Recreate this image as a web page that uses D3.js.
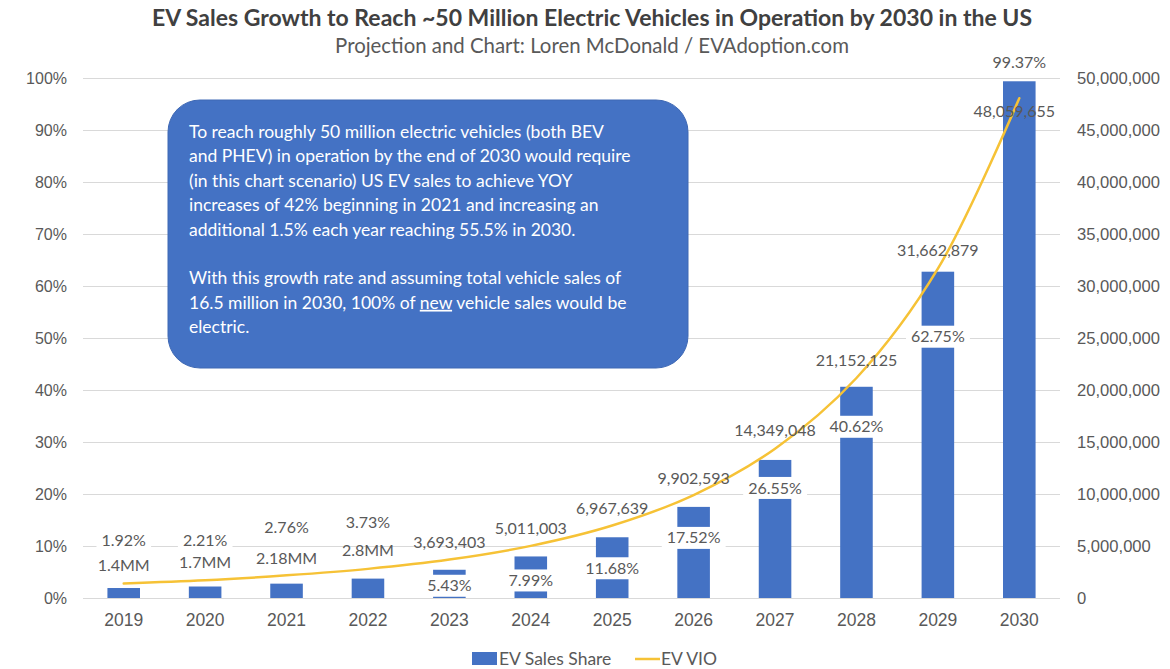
<!DOCTYPE html>
<html>
<head>
<meta charset="utf-8">
<script src="https://cdn.jsdelivr.net/npm/d3@7"></script>
<style>
  html, body { margin: 0; padding: 0; background: #fff; }
  svg { display: block; font-family: Lato, "Liberation Sans", sans-serif; }
</style>
</head>
<body>
<svg id="chart" width="1170" height="669"></svg>
<script>
// Years on the category axis
const years = ["2019","2020","2021","2022","2023","2024","2025","2026","2027","2028","2029","2030"];
// EV share of new vehicle sales (percent)
const salesShare = [1.92, 2.21, 2.76, 3.73, 5.43, 7.99, 11.68, 17.52, 26.55, 40.62, 62.75, 99.37];
// EVs in operation (vehicles)
const evVio = [1400000, 1700000, 2180000, 2800000, 3693403, 5011003, 6967639, 9902593, 14349048, 21152125, 31662879, 48059655];
// Text shown above the line points
const vioLabels = ["1.4MM","1.7MM","2.18MM","2.8MM","3,693,403","5,011,003","6,967,639","9,902,593","14,349,048","21,152,125","31,662,879","48,059,655"];
// Axis ticks
const leftTicks = [0,10,20,30,40,50,60,70,80,90,100];
const rightTicks = [0,5e6,10e6,15e6,20e6,25e6,30e6,35e6,40e6,45e6,50e6];

// Label placement (pixel offsets from each mark)
const shareLabelDy = [-48,-46,-56,-56,16,24,31,31,28,40,65,-19];
const vioLabelDy = [-18,-18,-17,-18,-17,-17,-17,-17,-18,-18,-18,13];
const vioLabelDx = [0,0,0,0,0,0,0,0,0,0,0,-5];

const noteLines = [
  ["To reach roughly 50 million electric vehicles (both BEV"],
  ["and PHEV) in operation by the end of 2030 would require"],
  ["(in this chart scenario) US EV sales to achieve YOY"],
  ["increases of 42% beginning in 2021 and increasing an"],
  ["additional 1.5% each year reaching 55.5% in 2030."],
  [""],
  ["With this growth rate and assuming total vehicle sales of"],
  ["16.5 million in 2030, 100% of ", "new", " vehicle sales would be"],
  ["electric."]
];

const svg = d3.select("#chart");
const plot = { left: 83, right: 1060, top: 78, bottom: 598 };
const barColor = "#4472C4";
const lineColor = "#F6C236";
const textColor = "#595959";

const x = d3.scaleBand().domain(years).range([plot.left, plot.right]).paddingInner(0.6).paddingOuter(0.3);
const yL = d3.scaleLinear().domain([0, 100]).range([plot.bottom, plot.top]);
const yR = d3.scaleLinear().domain([0, 50e6]).range([plot.bottom, plot.top]);

// Title
svg.append("text").attr("x", 592).attr("y", 26).attr("text-anchor", "middle")
  .attr("font-size", 23).attr("font-weight", 700).attr("fill", "#404040")
  .text("EV Sales Growth to Reach ~50 Million Electric Vehicles in Operation by 2030 in the US");
svg.append("text").attr("x", 592).attr("y", 53).attr("text-anchor", "middle")
  .attr("font-size", 20.4).attr("fill", textColor)
  .text("Projection and Chart: Loren McDonald / EVAdoption.com");

// Gridlines
svg.append("g").selectAll("line").data(leftTicks).join("line")
  .attr("x1", plot.left).attr("x2", plot.right)
  .attr("y1", d => Math.round(yL(d)) + 0.5).attr("y2", d => Math.round(yL(d)) + 0.5)
  .attr("stroke", "#D9D9D9").attr("stroke-width", 1);

// Left axis
const axL = svg.append("g").attr("transform", `translate(${plot.left - 16},0)`)
  .call(d3.axisLeft(yL).tickValues(leftTicks).tickFormat(d => d + "%").tickSize(0).tickPadding(0));
axL.select(".domain").remove();
axL.selectAll("text").attr("font-size", 16).attr("fill", textColor).attr("font-family", null);

// Right axis
const axR = svg.append("g").attr("transform", `translate(1077,0)`)
  .call(d3.axisRight(yR).tickValues(rightTicks).tickFormat(d3.format(",")).tickSize(0).tickPadding(0));
axR.select(".domain").remove();
axR.selectAll("text").attr("font-size", 16.6).attr("fill", textColor).attr("font-family", null);

// Bottom axis
const axB = svg.append("g").attr("transform", `translate(0,${plot.bottom})`)
  .call(d3.axisBottom(x).tickSize(0).tickPadding(16));
axB.select(".domain").remove();
axB.selectAll("text").attr("font-size", 17.5).attr("fill", textColor).attr("font-family", null);

// Bars
svg.append("g").selectAll("rect").data(years).join("rect")
  .attr("x", d => x(d)).attr("width", x.bandwidth())
  .attr("y", (d, i) => yL(salesShare[i]))
  .attr("height", (d, i) => yL(0) - yL(salesShare[i]))
  .attr("fill", barColor);

// Note box
const note = svg.append("g");
note.append("rect").attr("x", 168).attr("y", 100).attr("width", 520).attr("height", 268)
  .attr("rx", 32).attr("ry", 32).attr("fill", barColor).attr("stroke", "#3E68B4").attr("stroke-width", 1);
const noteText = note.append("text").attr("font-size", 17.5).attr("fill", "#fff");
noteLines.forEach((parts, i) => {
  const t = noteText.append("tspan").attr("x", 189).attr("y", 138 + i * 24.4);
  parts.forEach((p, j) => {
    const s = t.append("tspan").text(p);
    if (parts.length > 1 && j === 1) s.attr("text-decoration", "underline");
  });
});

// EV VIO line
const line = d3.line()
  .x((d, i) => x(years[i]) + x.bandwidth() / 2)
  .y(d => yR(d))
  .curve(d3.curveCatmullRom.alpha(0.5));
svg.append("path").datum(evVio).attr("d", line)
  .attr("fill", "none").attr("stroke", lineColor).attr("stroke-width", 2.5).attr("stroke-linecap", "round");

// Share labels with white boxes
const shareG = svg.append("g");
years.forEach((yr, i) => {
  const cx = x(yr) + x.bandwidth() / 2;
  const cy = yL(salesShare[i]) + shareLabelDy[i];
  const g = shareG.append("g");
  const t = g.append("text").attr("x", cx).attr("y", cy).attr("dy", "0.35em")
    .attr("text-anchor", "middle").attr("font-size", 16).attr("fill", textColor)
    .text(salesShare[i].toFixed(2) + "%");
  const bb = t.node().getBBox();
  g.insert("rect", "text").attr("x", bb.x - 5).attr("y", cy - 11).attr("width", bb.width + 10).attr("height", 22)
    .attr("fill", "#fff");
});

// VIO labels
svg.append("g").selectAll("text").data(vioLabels).join("text")
  .attr("x", (d, i) => x(years[i]) + x.bandwidth() / 2 + vioLabelDx[i])
  .attr("y", (d, i) => yR(evVio[i]) + vioLabelDy[i])
  .attr("dy", "0.35em").attr("text-anchor", "middle")
  .attr("font-size", 16).attr("fill", textColor)
  .text(d => d);

// Legend
const lg = svg.append("g");
lg.append("rect").attr("x", 472).attr("y", 652).attr("width", 25).attr("height", 13).attr("fill", barColor);
lg.append("text").attr("x", 499).attr("y", 665).attr("font-size", 17.5).attr("fill", textColor).text("EV Sales Share");
lg.append("line").attr("x1", 635).attr("x2", 660).attr("y1", 659).attr("y2", 659)
  .attr("stroke", lineColor).attr("stroke-width", 2.5);
lg.append("text").attr("x", 661).attr("y", 665).attr("font-size", 17.5).attr("fill", textColor).text("EV VIO");
</script>
</body>
</html>
